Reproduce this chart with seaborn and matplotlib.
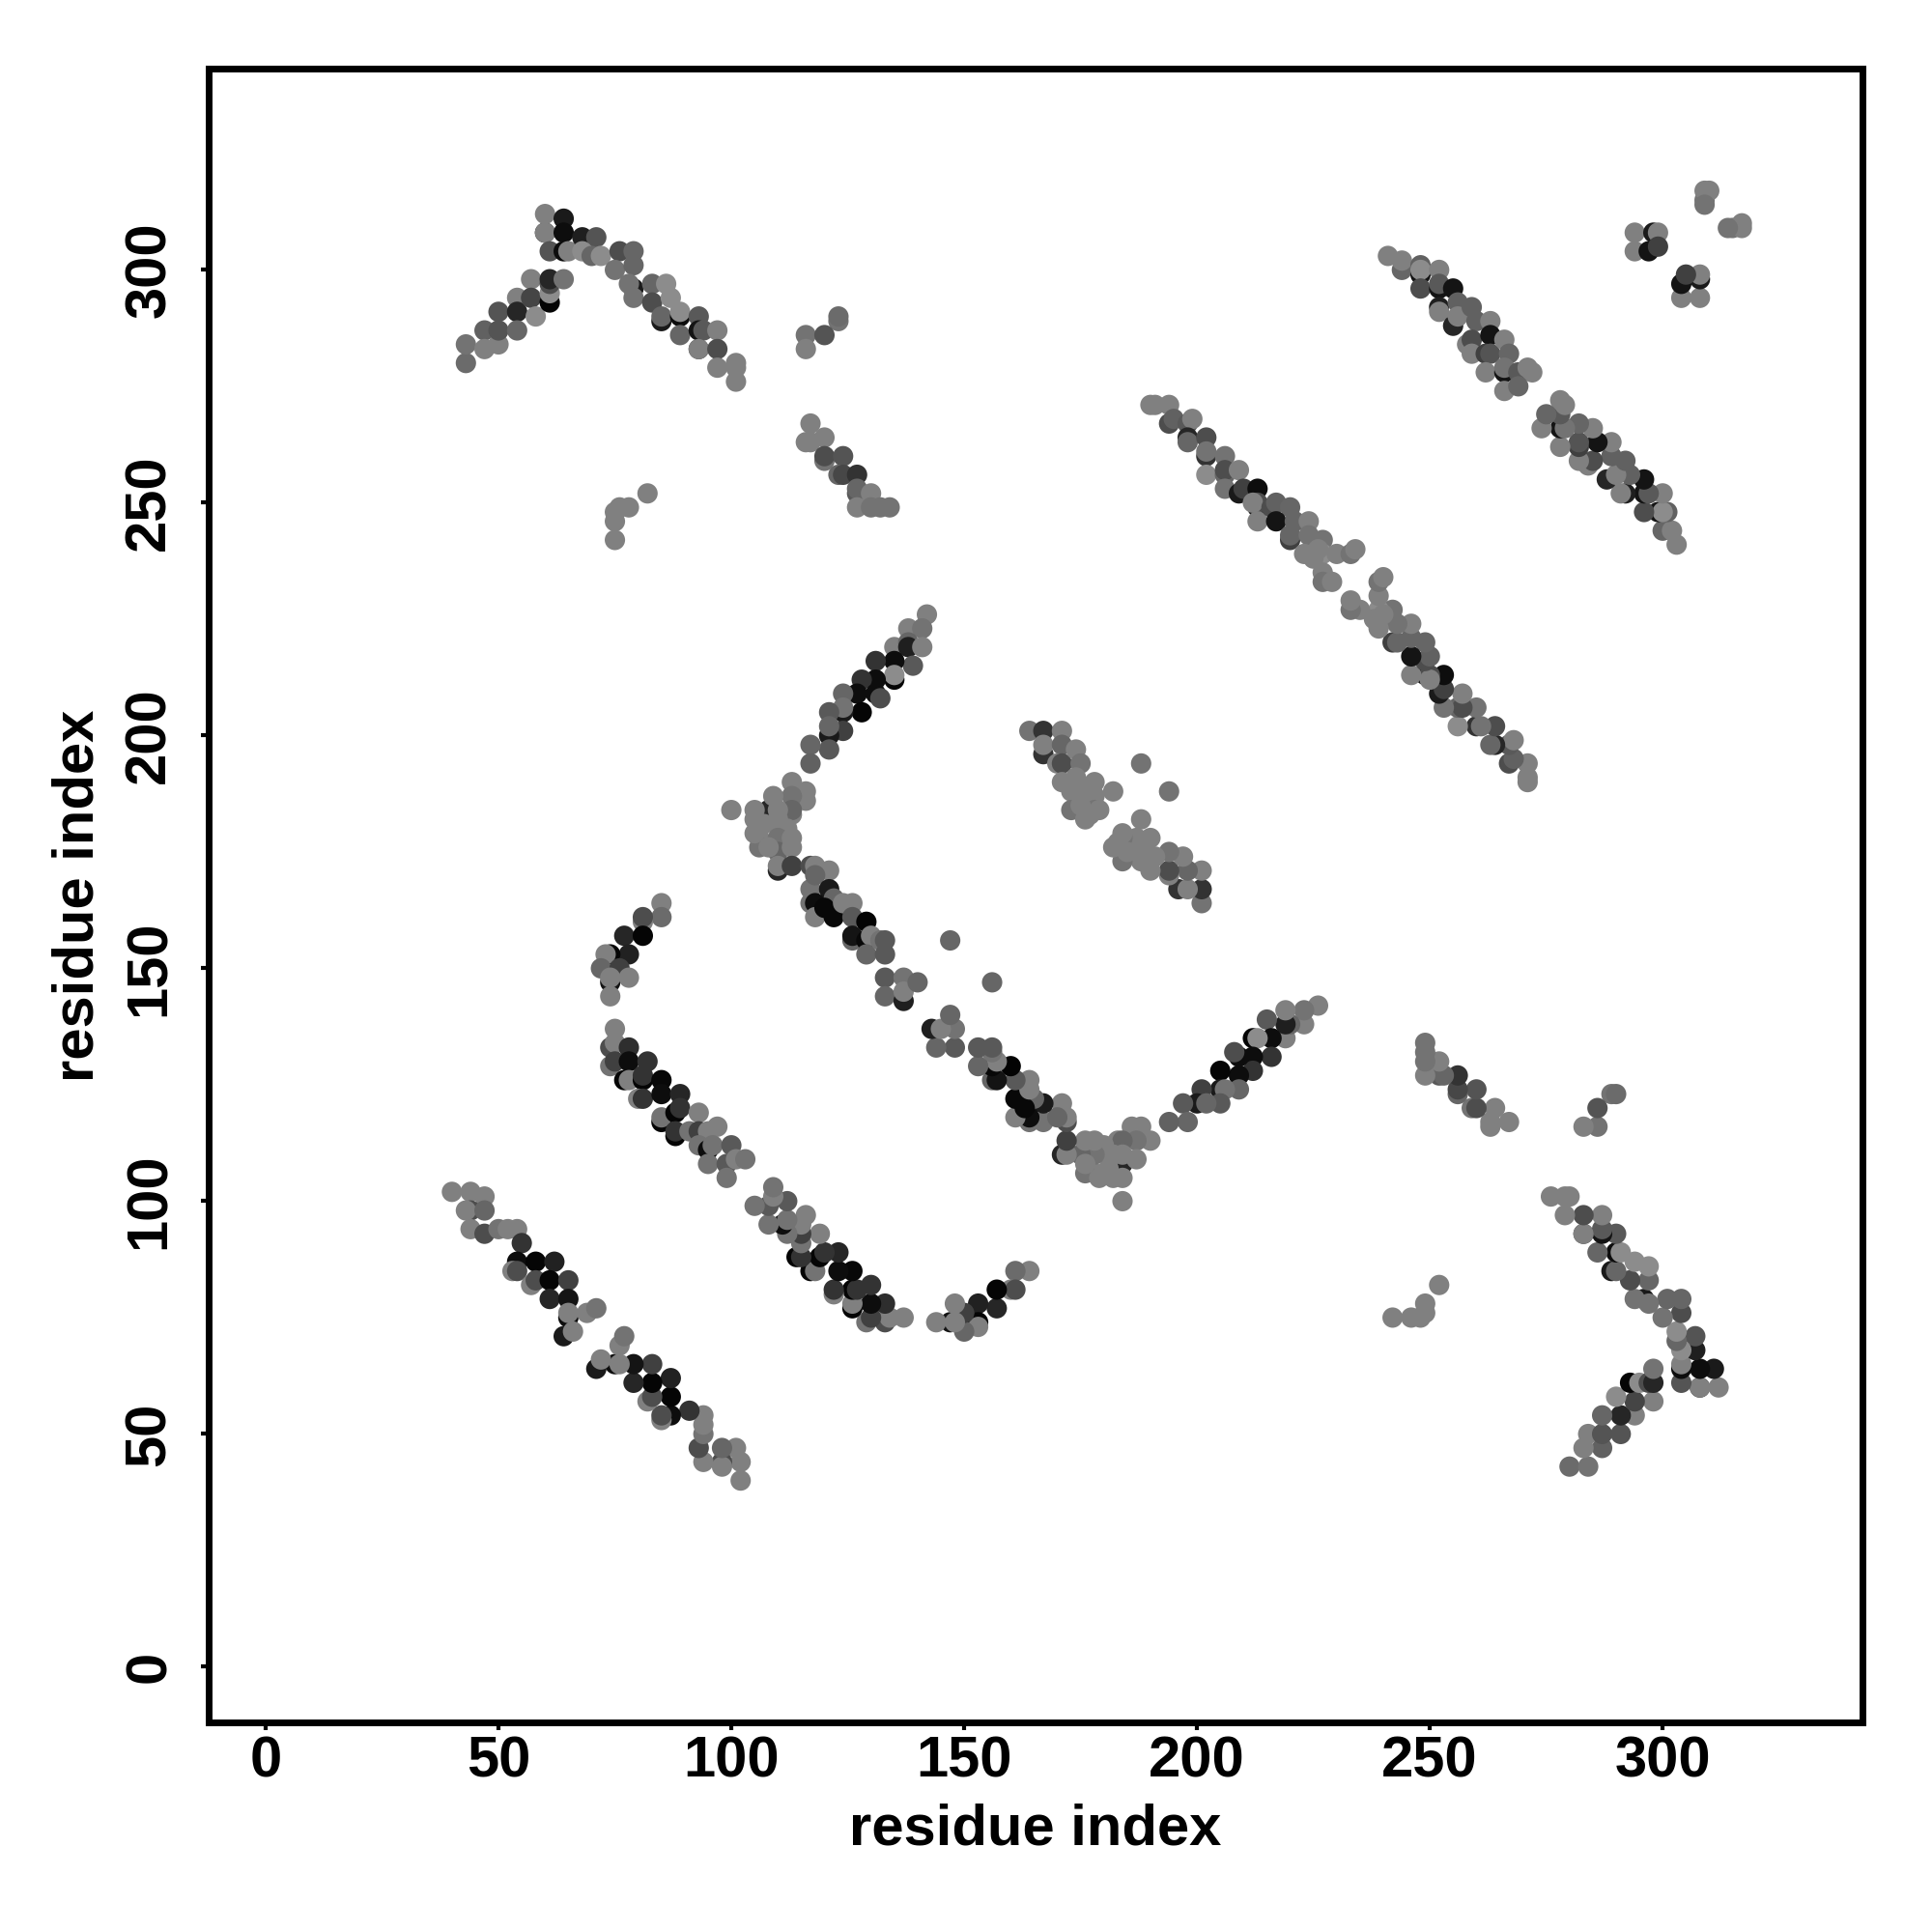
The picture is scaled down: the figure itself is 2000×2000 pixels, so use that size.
import pandas as pd
import seaborn as sns
import matplotlib
matplotlib.use("Agg")
import matplotlib.pyplot as plt

# contactos (i, j, gris), solo mitad j > i: el mapa es simetrico
banda_a = [(40,102,.5),(44,102,.5),(47,101,.5),(44,98,.3),(43,98,.5),(47,98,.4),(44,94,.5),(47,93,.3),
           (50,94,.45),(52,94,.5),(54,94,.5),(55,91,.2),(54,87,.05),(53,85,.5),(54,85,.3),(58,87,.02),
           (62,87,.13),(57,82,.5),(58,83,.3),(61,83,.02),(65,83,.25),(61,79,.15),(65,79,.08),(65,75,.05),
           (65,76,.5),(69,76,.5),(71,77,.45),(64,71,.1),(66,72,.5)]
banda_b = [(75,137,.5),(74,133,.3),(75,134,.5),(78,133,.18),(74,129,.45),(75,130,.25),(78,130,.05),
           (82,130,.2),(77,126,.02),(78,126,.5),(81,126,.02),(81,127,.2),(85,126,.03),(80,122,.5),
           (81,122,.2),(85,123,.05),(89,123,.15),(85,117,.02),(85,118,.45),(88,119,.02),(89,120,.2),
           (88,114,.02),(88,115,.2),(93,119,.5),(91,115,.45),(93,115,.25),(97,116,.5),(95,115,.5),
           (93,112,.45),(95,111,.05),(96,112,.45),(100,112,.35),(95,108,.45),(99,108,.35),(99,105,.45),
           (101,109,.5),(103,109,.45)]
arco_c = [(43,280,.42),(43,284,.45),(47,287,.38),(47,283,.5),(50,284,.5),(50,291,.33),(50,287,.33),
          (54,294,.5),(54,291,.15),(54,287,.4),(57,298,.5),(57,294,.27),(58,290,.55),(61,293,.02),
          (61,295,.55),(61,297,.3),(61,298,.15),(64,298,.45),(60,308,.1),(60,312,.5),(64,311,.1),
          (60,308,.5),(64,308,.05),(61,304,.33),(64,304,.05),(65,304,.5),(68,307,.12),(71,307,.33),
          (68,304,.55),(70,303,.4),(72,303,.55),(76,304,.3),(79,304,.4),(75,300,.45),(79,301,.4),
          (79,296,.1),(78,297,.45),(79,294,.45),(83,297,.4),(86,297,.55),(83,293,.3),(87,294,.55),
          (85,289,.1),(85,290,.4),(89,290,.05),(89,291,.55),(89,286,.4),(93,290,.35),(93,287,.08),
          (94,287,.35),(97,287,.5),(93,283,.2),(93,283,.5),(97,283,.3),(97,279,.5),(101,279,.5),
          (101,280,.5),(101,276,.5)]
grupo_d = [(123,289,.45),(123,290,.42),(116,286,.45),(116,283,.5),(120,286,.33),(117,267,.5),(116,263,.5),
           (117,263,.5),(120,264,.5),(120,259,.45),(120,260,.3),(124,260,.33),(123,256,.4),(124,256,.28),
           (127,256,.2),(127,252,.35),(127,253,.4),(130,252,.5),(127,249,.5),(130,249,.45),(132,249,.45),
           (134,249,.45),(75,242,.5),(75,246,.5),(75,248,.5),(76,249,.5),(78,249,.5),(82,252,.5)]
brazo_e = [(142,226,.5),(138,223,.5),(141,223,.45),(135,219,.5),(138,220,.4),(138,219,.12),(141,219,.5),
           (139,215,.35),(135,212,.02),(135,216,.05),(135,213,.55),(131,216,.2),(131,212,.05),(128,212,.2),
           (131,209,.05),(132,208,.3),(127,209,.05),(128,205,.02),(124,209,.4),(124,205,.1),(124,206,.45),
           (121,205,.35),(124,201,.25),(121,200,.1),(121,202,.4),(121,197,.35),(117,198,.4),(117,194,.38),
           (108,184,.15),(113,190,.5),(116,188,.5),(116,186,.5),(113,187,.45),(109,187,.5),(113,183,.5),
           (113,184,.4),(110,184,.5),(100,184,.5),(105,184,.5),(105,182,.5),(110,182,.5),(107,181,.5),
           (112,180,.5)]
banda_f = [(110,171,.15),(106,181,.5),(110,181,.5),(106,178,.5),(106,176,.45),(110,178,.45),(110,175,.4),
           (113,178,.5),(113,176,.5),(105,179,.5),(108,176,.5),(110,172,.5),
           (113,172,.25),(117,172,.3),(118,172,.5),(121,171,.5),(117,167,.45),(118,170,.4),(121,167,.1),
           (122,165,.4),(117,164,.45),(118,164,.05),(118,161,.5),(122,161,.03),(120,163,.03),(124,164,.5),
           (126,164,.5),(126,161,.35),(129,160,.01),(126,156,.4),(126,157,.08),(129,156,.03),(130,157,.5),
           (129,153,.4),(132,156,.45),(133,156,.35),(133,153,.35),(133,148,.35),(133,144,.4),(137,148,.45),
           (137,143,.12),(137,145,.5),(140,147,.4),(147,156,.4)]
brazo_g = [(85,164,.5),(85,161,.42),(81,160,.5),(81,161,.3),(77,157,.15),(81,157,.02),(78,153,.13),
           (74,153,.02),(73,153,.5),(72,150,.4),(76,150,.25),(74,147,.08),(74,148,.5),(78,148,.5),(74,144,.5)]
banda_h = [(164,201,.45),(167,196,.2),(167,201,.2),(167,198,.5),(171,201,.5),(171,198,.4),(170,194,.5),
           (171,194,.3),(174,197,.5),(171,190,.5),(175,194,.45),(174,191,.5),(178,190,.5),(173,188,.5),
           (173,184,.45),(178,187,.5),(182,188,.5),(176,182,.5),(178,184,.45),(188,194,.45),(175,188,.5),
           (175,185,.5),(179,184,.5),(177,183,.5)]
banda_i = [(190,271,.5),(191,271,.5),(194,271,.5),(194,267,.3),(195,268,.38),(198,267,.35),(199,268,.5),
           (198,264,.15),(198,263,.4),(202,264,.3),(202,260,.2),(202,261,.45),(202,256,.55),(206,260,.45),
           (206,256,.4),(206,257,.3),(209,257,.5),(206,253,.45),(209,252,.1),(210,253,.25),(213,253,.05),
           (213,249,.08),(213,250,.3),(212,250,.5),(213,246,.5),(216,249,.3),(217,250,.38),(220,249,.4),
           (217,246,.08),(221,246,.4),(224,246,.5),(220,242,.25),(220,243,.4),(224,243,.45),(227,242,.45),
           (223,239,.5),(227,239,.55),(230,239,.5),(233,239,.45),(234,240,.5),(227,235,.5),(227,233,.45),
           (226,240,.5),(229,233,.5),(225,238,.5)]
banda_j = [(241,303,.5),(244,300,.4),(244,302,.5),(248,299,.08),(248,301,.38),(248,300,.55),(252,300,.5),
           (248,296,.3),(252,296,.08),(252,297,.35),(255,296,.08),(252,292,.12),(252,291,.5),(256,293,.38),
           (255,288,.15),(256,290,.5),(259,292,.38),(260,289,.38),(263,289,.5),(258,284,.5),(259,285,.3),
           (259,282,.5),(263,286,.08),(262,282,.25),(263,282,.33),(266,285,.5),(267,282,.4),(262,278,.5),
           (266,278,.08),(266,279,.45),(269,278,.35),(271,279,.5),(272,278,.5),(266,274,.5),(269,275,.4)]
grupo_k = [(294,308,.5),(294,304,.5),(298,308,.1),(299,308,.5),(297,304,.08),(299,305,.25),(309,315,.45),
           (309,317,.5),(310,317,.5),(309,314,.45)]

bandas = [banda_a, banda_b, arco_c, grupo_d, brazo_e, banda_f, brazo_g, banda_h, banda_i, banda_j, grupo_k]
ticks = [0, 50, 100, 150, 200, 250, 300]

df = pd.DataFrame([p for b in bandas for p in b], columns=["i", "j", "gris"])
espejo = df.rename(columns={"i": "j", "j": "i"})
df = pd.concat([df, espejo], ignore_index=True)

sns.set_style("white")
plt.rcParams["font.family"] = ["Liberation Sans"]
plt.rcParams["font.weight"] = "bold"
plt.rcParams["text.color"] = "black"
plt.rcParams["axes.labelcolor"] = "black"

fig = plt.figure(figsize=(20, 20), dpi=100)
ax = fig.add_axes([0.1081, 0.1087, 0.8559, 0.8556])

paleta = {g: str(g) for g in df["gris"].unique()}
sns.scatterplot(data=df, x="i", y="j", hue="gris", palette=paleta, legend=False,
                s=230, linewidth=0, ax=ax, clip_on=False)

ax.set_xlim(-12.2, 342.9)
ax.set_ylim(-11.85, 343.15)
ax.set_xticks(ticks)
ax.set_yticks(ticks)
ax.tick_params(axis="both", length=6, width=3, color="black", direction="out", bottom=True, left=True,
               labelsize=43, labelcolor="black")
ax.tick_params(axis="x", pad=4)
ax.tick_params(axis="y", pad=18)
plt.setp(ax.get_yticklabels(), rotation=90, va="center")
for s in ax.spines.values():
    s.set_linewidth(5)
    s.set_color("black")
ax.set_xlabel("residue index", fontsize=43, fontweight="bold", labelpad=11, color="black")
ax.set_ylabel("residue index", fontsize=43, fontweight="bold", labelpad=14, color="black")

fig.savefig("out.png", dpi=100, facecolor="white")
